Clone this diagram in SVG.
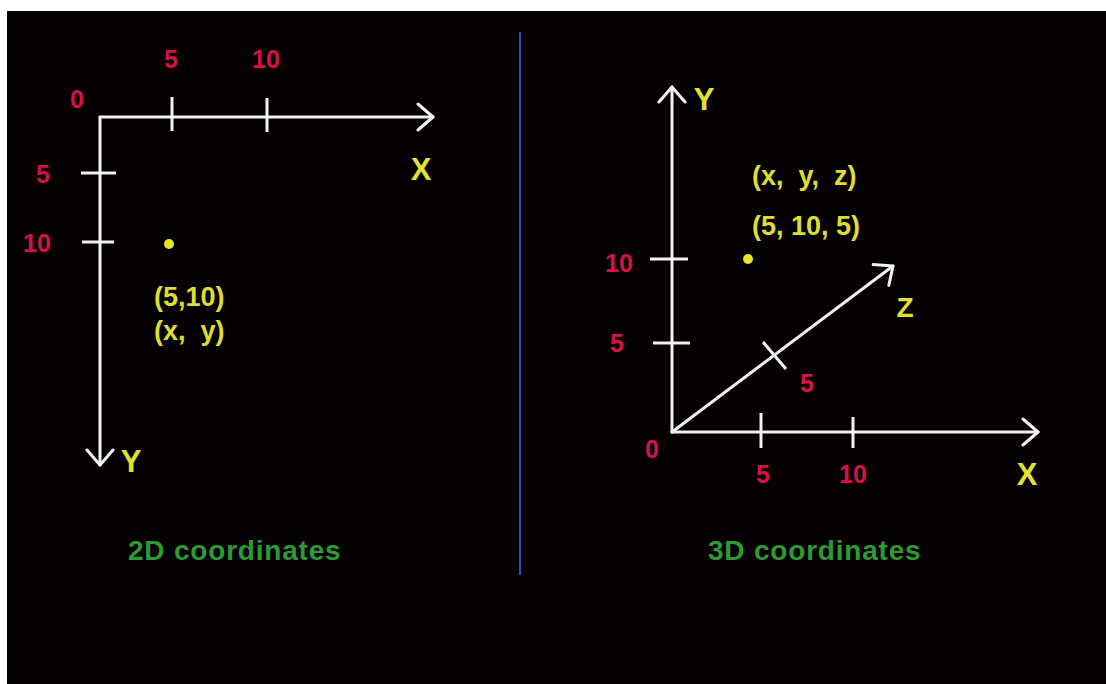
<svg xmlns="http://www.w3.org/2000/svg" width="1106" height="684" viewBox="0 0 1106 684">
<style>
.ax{stroke:#f2f2f2;stroke-width:3;fill:none;stroke-linecap:round}
.tk{stroke:#f2f2f2;stroke-width:3;fill:none}
.num{font-family:"Liberation Sans",Arial,sans-serif;font-weight:bold;font-size:25px;fill:#d41246}
.lbl{font-family:"Liberation Sans",Arial,sans-serif;font-weight:bold;font-size:31px;fill:#e2e22e}
.pt{font-family:"Liberation Sans",Arial,sans-serif;font-weight:bold;font-size:27px;fill:#dede30}
.cap{font-family:"Liberation Sans",Arial,sans-serif;font-weight:bold;font-size:28px;fill:#2e9a32;letter-spacing:0.8px}
.dot{fill:#e6e628}
</style>
<defs>
<marker id="arr" viewBox="0 0 20 30" refX="17" refY="15" markerWidth="20" markerHeight="30" markerUnits="userSpaceOnUse" orient="auto">
<path d="M2,2 L17,15 L2,28" fill="none" stroke="#f2f2f2" stroke-width="3" stroke-linecap="round" stroke-linejoin="round"/>
</marker>
</defs>
<rect x="0" y="0" width="1106" height="684" fill="#ffffff"/>
<rect x="7" y="11" width="1099" height="673" fill="#050103"/>
<line x1="520" y1="32" x2="520" y2="575" stroke="#3a44c8" stroke-width="2"/>
<g id="connectors">
<line class="ax" x1="100" y1="117" x2="433" y2="117" marker-end="url(#arr)"/>
<line class="ax" x1="100" y1="117" x2="100" y2="465" marker-end="url(#arr)"/>
<line class="ax" x1="672" y1="432" x2="1038" y2="432" marker-end="url(#arr)"/>
<line class="ax" x1="672" y1="432" x2="672" y2="87" marker-end="url(#arr)"/>
<line class="ax" x1="672" y1="432" x2="893" y2="266" stroke-width="2.5" marker-end="url(#arr)"/>
</g>
<g id="ticks-2d">
<line class="tk" x1="172" y1="97" x2="172" y2="131"/>
<line class="tk" x1="267" y1="98" x2="267" y2="132"/>
<line class="tk" x1="81" y1="173" x2="116" y2="173"/>
<line class="tk" x1="82" y1="242" x2="114" y2="242"/>
</g>
<g id="ticks-3d">
<line class="tk" x1="650" y1="259" x2="688" y2="259"/>
<line class="tk" x1="653" y1="343" x2="690" y2="343"/>
<line class="tk" x1="761" y1="413" x2="761" y2="448"/>
<line class="tk" x1="853" y1="417" x2="853" y2="448"/>
<line class="tk" stroke-width="2" x1="763" y1="342" x2="786" y2="369"/>
</g>
<g id="labels-2d">
<text class="num" x="171" y="68" text-anchor="middle">5</text>
<text class="num" x="266" y="68" text-anchor="middle">10</text>
<text class="num" x="77" y="108" text-anchor="middle">0</text>
<text class="num" x="43" y="183" text-anchor="middle">5</text>
<text class="num" x="37" y="252" text-anchor="middle">10</text>
<text class="lbl" x="421" y="180" text-anchor="middle">X</text>
<text class="lbl" x="131" y="472" text-anchor="middle">Y</text>
</g>
<g id="point-2d">
<circle class="dot" cx="169" cy="244" r="5"/>
<text class="pt" x="154" y="306">(5,10)</text>
<text class="pt" x="154" y="340" xml:space="preserve">(x,  y)</text>
</g>
<g id="labels-3d">
<text class="lbl" x="704" y="110" text-anchor="middle">Y</text>
<text class="num" x="619" y="272" text-anchor="middle">10</text>
<text class="num" x="617" y="352" text-anchor="middle">5</text>
<text class="num" x="807" y="392" text-anchor="middle">5</text>
<text class="num" x="652" y="458" text-anchor="middle">0</text>
<text class="num" x="763" y="483" text-anchor="middle">5</text>
<text class="num" x="853" y="483" text-anchor="middle">10</text>
<text class="lbl" x="1027" y="485" text-anchor="middle">X</text>
<text class="lbl" x="905" y="317" text-anchor="middle" style="font-size:28px">Z</text>
</g>
<g id="point-3d">
<circle class="dot" cx="748" cy="259" r="5"/>
<text class="pt" x="752" y="185" xml:space="preserve">(x,  y,  z)</text>
<text class="pt" x="752" y="235">(5, 10, 5)</text>
</g>
<g id="captions">
<text class="cap" x="128" y="560">2D coordinates</text>
<text class="cap" x="708" y="560">3D coordinates</text>
</g>
</svg>
